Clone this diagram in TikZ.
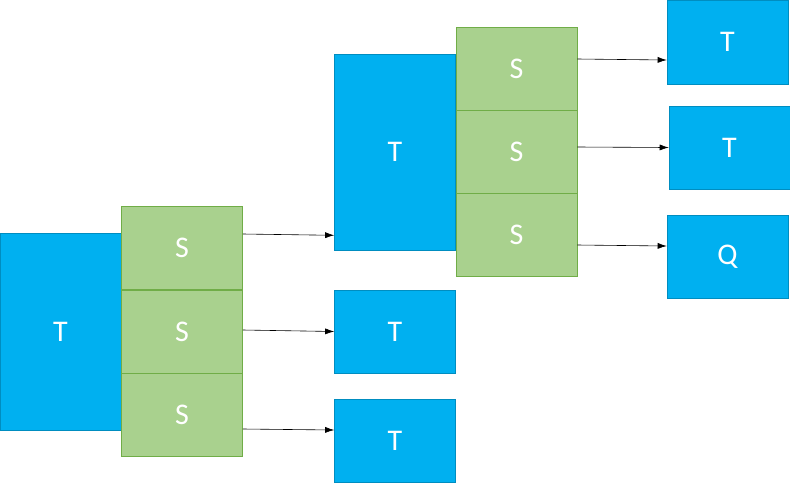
\documentclass[tikz,border=0pt]{standalone}
\usepackage{fontspec}
\setmainfont{Carlito}
\usetikzlibrary{arrows.meta,calc}
\definecolor{tblue}{HTML}{00B0F0}
\definecolor{sgreen}{HTML}{A9D18E}
\definecolor{sline}{HTML}{70AD47}
\begin{document}
\begin{tikzpicture}[x=1pt,y=-1pt,
  box/.style={draw=#1,line width=0.6pt,inner sep=0pt,text=white,font=\fontsize{30}{30}\selectfont},
  tbox/.style={box=tblue!80!black,fill=tblue,minimum width=121pt},
  sbox/.style={box=sline,fill=sgreen,minimum width=121pt,minimum height=83pt},
  arr/.style={-{Latex[length=9pt,width=6pt]},line width=0.6pt}]
\useasboundingbox (0,0) rectangle (790,483);
\node[tbox,minimum height=197pt] (t0) at (60.5,331.5) {T};
\node[sbox] (s1) at (182,248) {S};
\node[sbox] (s2) at (182,331.5) {S};
\node[sbox] (s3) at (182,414.5) {S};
\node[tbox,minimum height=196pt] (t1) at (395,152) {T};
\node[sbox] (s4) at (516.5,68.5) {S};
\node[sbox] (s5) at (516.5,151.5) {S};
\node[sbox] (s6) at (516.5,234.5) {S};
\node[tbox,minimum height=83pt] (t2) at (395,331.5) {T};
\node[tbox,minimum height=83pt] (t3) at (395,440.5) {T};
\node[tbox,minimum height=84pt] (t4) at (727.5,42) {T};
\node[tbox,minimum height=83pt] (t5) at (729.5,147.5) {T};
\node[tbox,minimum height=83pt] (t6) at (727.5,256.5) {Q};
\draw[arr] ($(s1.east)+(0,-14)$) -- ($(t1.south west)+(0,-15)$);
\draw[arr] ($(s2.east)+(0,-1.5)$) -- (t2.west);
\draw[arr] ($(s3.east)+(0,14.5)$) -- ($(t3.west)+(0,-10.5)$);
\draw[arr] ($(s4.east)+(0,-9.5)$) -- ($(t4.west)+(0,18)$);
\draw[arr] ($(s5.east)+(0,-4.5)$) -- (t5.west);
\draw[arr] ($(s6.east)+(0,10.5)$) -- ($(t6.west)+(0,-10.5)$);
\end{tikzpicture}
\end{document}
